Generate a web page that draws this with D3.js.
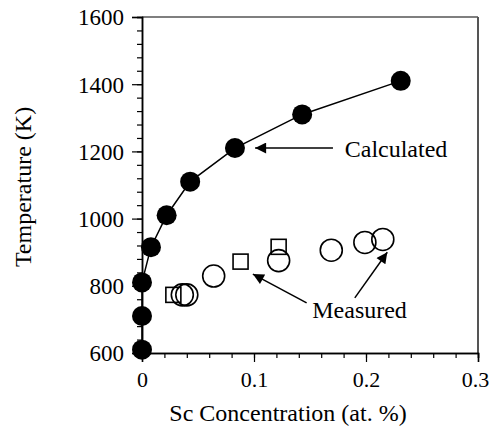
<!DOCTYPE html>
<html>
<head>
<meta charset="utf-8">
<script src="https://cdn.jsdelivr.net/npm/d3@7"></script>
<style>
  body { margin: 0; background: #fff; }
  svg text { font-family: "Liberation Serif", "DejaVu Serif", Tinos, "Times New Roman", Times, serif !important; fill: #000; }
</style>
</head>
<body>
<svg class="svg" width="489" height="434"></svg>
<script>
// donnees
const calcX = [0, 0, 0, 0.008, 0.022, 0.043, 0.083, 0.143, 0.231];
const calcT = [610, 710, 810, 915, 1010, 1110, 1210, 1310, 1410];

const circX = [0.036, 0.040, 0.064, 0.122, 0.169, 0.199, 0.215];
const circT = [773, 773, 829, 875, 906, 929, 938];

const sqX = [0.028, 0.088, 0.122];
const sqT = [773, 872, 916];

const xTicks = [0, 0.1, 0.2, 0.3];
const yTicks = [600, 800, 1000, 1200, 1400, 1600];

// fleches : [x depart, T depart, x pointe, T pointe]
const arrows = [
  [0.1705, 1210, 0.101, 1210],
  [0.147, 749, 0.099, 835],
  [0.190, 764, 0.219, 900]
];
const labels = ["Calculated", "Measured"];
const labelX = [0.181, 0.152];
const labelT = [1183, 704];

const svg = d3.select(".svg");

const x = d3.scaleLinear().domain([0, 0.3]).range([142, 478]);
const y = d3.scaleLinear().domain([600, 1600]).range([353, 17]);

// cadre
svg.append("line").attr("x1", 142).attr("x2", 478).attr("y1", 17).attr("y2", 17)
  .attr("stroke", "#000").attr("stroke-width", 1.2);
svg.append("line").attr("x1", 478).attr("x2", 478).attr("y1", 17).attr("y2", 353)
  .attr("stroke", "#555").attr("stroke-width", 2);

// axe x
const xAxis = svg.append("g").attr("transform", "translate(0,353)")
  .call(d3.axisBottom(x).tickValues(xTicks).tickSize(9).tickFormat(d => d === 0 ? "0" : d3.format(".1f")(d)));
svg.append("g").attr("transform", "translate(0,353)")
  .call(d3.axisBottom(x).tickValues(d3.range(0, 0.3001, 0.02)).tickSize(5).tickFormat(""));

// axe y
const yAxis = svg.append("g").attr("transform", "translate(142,0)")
  .call(d3.axisLeft(y).tickValues(yTicks).tickSize(10).tickPadding(8).tickFormat(d3.format("d")));
svg.append("g").attr("transform", "translate(142,0)")
  .call(d3.axisLeft(y).tickValues(d3.range(600, 1601, 40)).tickSize(5).tickFormat(""));

svg.selectAll(".domain").attr("stroke", "#000").attr("stroke-width", 1.5);
svg.selectAll(".tick line").attr("stroke", "#000").attr("stroke-width", 1.2);
xAxis.selectAll("text").attr("font-size", 22).attr("dy", "1.0em")
  .attr("dx", d => d === 0.3 ? -3 : 0);
yAxis.selectAll("text").attr("font-size", 23).attr("dy", "0.34em");

// titres
svg.append("text").text("Sc Concentration (at. %)")
  .attr("x", 288).attr("y", 421).attr("text-anchor", "middle").attr("font-size", 24);
svg.append("text").text("Temperature (K)")
  .attr("transform", "translate(31,187) rotate(-90)")
  .attr("text-anchor", "middle").attr("font-size", 24);

// courbe calculee
const calc = calcX.map((d, i) => [d, calcT[i]]);
svg.append("path")
  .datum([[0, 600]].concat(calc))
  .attr("fill", "none").attr("stroke", "#000").attr("stroke-width", 1.5)
  .attr("d", d3.line().x(d => x(d[0])).y(d => y(d[1])));

svg.selectAll(".calc").data(calc).enter().append("circle")
  .attr("cx", d => x(d[0])).attr("cy", d => y(d[1])).attr("r", 10).attr("fill", "#000");

// mesures
svg.selectAll(".sq").data(sqX).enter().append("rect")
  .attr("x", d => x(d) - 7.5).attr("y", (d, i) => y(sqT[i]) - 7.5)
  .attr("width", 15).attr("height", 15)
  .attr("fill", "none").attr("stroke", "#000").attr("stroke-width", 1.6);

svg.selectAll(".circ").data(circX).enter().append("circle")
  .attr("cx", d => x(d)).attr("cy", (d, i) => y(circT[i])).attr("r", 11)
  .attr("fill", "none").attr("stroke", "#000").attr("stroke-width", 1.6);

// fleches
svg.append("defs").append("marker")
  .attr("id", "tete").attr("viewBox", "0 0 10 10").attr("refX", 10).attr("refY", 5)
  .attr("markerUnits", "userSpaceOnUse").attr("markerWidth", 16).attr("markerHeight", 11)
  .attr("orient", "auto")
  .append("path").attr("d", "M0,0 L10,5 L0,10 Z").attr("fill", "#000");

svg.selectAll(".arrow").data(arrows).enter().append("line")
  .attr("x1", d => x(d[0])).attr("y1", d => y(d[1]))
  .attr("x2", d => x(d[2])).attr("y2", d => y(d[3]))
  .attr("stroke", "#000").attr("stroke-width", 1.5)
  .attr("marker-end", "url(#tete)");

svg.selectAll(".lab").data(labels).enter().append("text")
  .text(d => d)
  .attr("x", (d, i) => x(labelX[i])).attr("y", (d, i) => y(labelT[i]))
  .attr("font-size", 24);
</script>
</body>
</html>
